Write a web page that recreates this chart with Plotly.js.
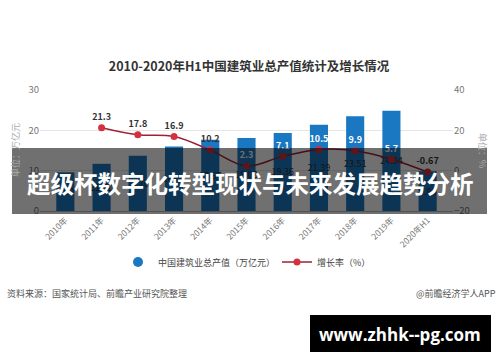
<!DOCTYPE html>
<html>
<head>
<meta charset="utf-8">
<script src="https://cdn.plot.ly/plotly-3.0.1.min.js"></script>
<style>html,body{margin:0;padding:0;background:#fff;}#chart{width:500px;height:362px;}</style>
</head>
<body>
<div id="chart"></div>
<script>
const categories = ["2010年","2011年","2012年","2013年","2014年","2015年","2016年","2017年","2018年","2019年","2020年H1"];
const outputValues = [9.6, 11.7, 13.7, 16.0, 17.67, 18.08, 19.36, 21.39, 23.51, 24.84, 9.86];
const growthCategories = ["2011年","2012年","2013年","2014年","2015年","2016年","2017年","2018年","2019年","2020年H1"];
const growthValues = [21.3, 17.8, 16.9, 10.2, 2.3, 7.1, 10.5, 9.9, 5.7, -0.67];
const leftTicks = [0, 10, 20, 30];
const rightTicks = [-20, 0, 20, 40];

const CJK = '"Noto Sans CJK SC", "Noto Sans", sans-serif';
const BAR_COLOR = '#1a78c2';
const growthLabelColors = growthValues.map((v, i) => (i >= 4 && i <= 8) ? '#ffffff' : '#333333');

const bars = {
  type: 'bar', name: '中国建筑业总产值（万亿元）', showlegend: false,
  x: categories, y: outputValues,
  text: outputValues.map(v => v.toFixed(2)),
  textposition: 'inside', insidetextanchor: 'middle', textangle: 0,
  constraintext: 'none',
  textfont: {size: 9, color: '#333', family: CJK},
  marker: {color: BAR_COLOR}, width: 0.5,
  yaxis: 'y', hoverinfo: 'skip'
};
const barLegend = {
  type: 'scatter', mode: 'markers', name: '中国建筑业总产值（万亿元）', legend: 'legend',
  x: [null], y: [null], marker: {color: BAR_COLOR, size: 10, symbol: 'circle'},
  yaxis: 'y', hoverinfo: 'skip'
};
const line = {
  type: 'scatter', mode: 'lines+markers+text', name: '增长率（%）', legend: 'legend2',
  x: growthCategories, y: growthValues,
  text: growthValues.map(v => String(v)),
  textposition: 'top center',
  textfont: {size: 9, color: growthLabelColors, family: CJK, weight: 'bold'},
  line: {color: '#9e2234', width: 1.5, shape: 'spline'},
  marker: {color: '#d4303e', size: 7, symbol: 'circle'},
  yaxis: 'y2', hoverinfo: 'skip'
};

const px = x => (x - 40) / 413;
const py = y => (211 - y) / 121;
const legendFont = {size: 9, color: '#444', family: CJK};

const layout = {
  width: 500, height: 362,
  margin: {l: 40, r: 47, t: 90, b: 151},
  paper_bgcolor: '#fff', plot_bgcolor: '#fff',
  title: {text: '2010-2020年H1中国建筑业总产值统计及增长情况', x: 0.498, xref: 'container', xanchor: 'center', y: 1 - 67/362, yref: 'container', yanchor: 'middle',
          font: {size: 12.5, color: '#333', family: CJK, weight: 'bold'}},
  showlegend: true,
  legend: {orientation: 'h', x: px(118), xanchor: 'left', y: py(262), yanchor: 'middle', font: legendFont, itemwidth: 30, bgcolor: 'rgba(0,0,0,0)'},
  legend2: {orientation: 'h', x: px(277), xanchor: 'left', y: py(262), yanchor: 'middle', font: legendFont, itemwidth: 30, bgcolor: 'rgba(0,0,0,0)'},
  xaxis: {type: 'category', range: [-0.7, 10.7], tickangle: -45, tickfont: {size: 8.5, color: '#777', family: CJK},
          showline: true, linecolor: '#bbb', linewidth: 1, ticks: '', showgrid: false, fixedrange: true},
  yaxis: {range: [0, 30], tickvals: leftTicks, tickfont: {size: 9.5, color: '#777', family: CJK},
          showgrid: true, gridcolor: '#e6e6e6', zeroline: false, showline: false, ticks: '', fixedrange: true},
  yaxis2: {range: [-20, 40], tickvals: rightTicks, overlaying: 'y', side: 'right',
           tickfont: {size: 9.5, color: '#777', family: CJK}, showgrid: false, zeroline: false, ticks: '', fixedrange: true},
  shapes: [
    {type: 'rect', xref: 'paper', yref: 'paper', x0: px(12), x1: px(487), y0: py(148), y1: py(214),
     fillcolor: 'rgba(0,0,0,0.56)', line: {width: 0}, layer: 'above'},
    {type: 'rect', xref: 'paper', yref: 'paper', x0: px(310), x1: px(491), y0: py(315), y1: py(352),
     fillcolor: '#000', line: {width: 0}, layer: 'above'}
  ],
  annotations: [
    {text: '单位：万亿元', xref: 'paper', yref: 'paper', x: px(15), y: py(150), textangle: -90, showarrow: false,
     font: {size: 9, color: '#aaa', family: CJK}, xanchor: 'center', yanchor: 'middle'},
    {text: '单位：%', xref: 'paper', yref: 'paper', x: px(483), y: py(150), textangle: 90, showarrow: false,
     font: {size: 9, color: '#aaa', family: CJK}, xanchor: 'center', yanchor: 'middle'},
    {text: '超级杯数字化转型现状与未来发展趋势分析', xref: 'paper', yref: 'paper', x: px(250), y: py(183), showarrow: false,
     font: {size: 23.5, color: '#fff', family: CJK, weight: 'bold'}, xanchor: 'center', yanchor: 'middle'},
    {text: '资料来源：国家统计局、前瞻产业研究院整理', xref: 'paper', yref: 'paper', x: px(5), y: py(293), showarrow: false,
     font: {size: 9, color: '#555', family: CJK}, xanchor: 'left', yanchor: 'middle'},
    {text: '@前瞻经济学人APP', xref: 'paper', yref: 'paper', x: px(498), y: py(293), showarrow: false,
     font: {size: 9, color: '#555', family: CJK}, xanchor: 'right', yanchor: 'middle'},
    {text: 'www.zhhk--pg.com', xref: 'paper', yref: 'paper', x: px(400), y: py(334), showarrow: false,
     font: {size: 17, color: '#fff', family: '"Open Sans", "DejaVu Sans", sans-serif', weight: 'bold'}, xanchor: 'center', yanchor: 'middle'}
  ]
};

Plotly.newPlot('chart', [barLegend, bars, line], layout, {staticPlot: true, displayModeBar: false});
</script>
</body>
</html>
